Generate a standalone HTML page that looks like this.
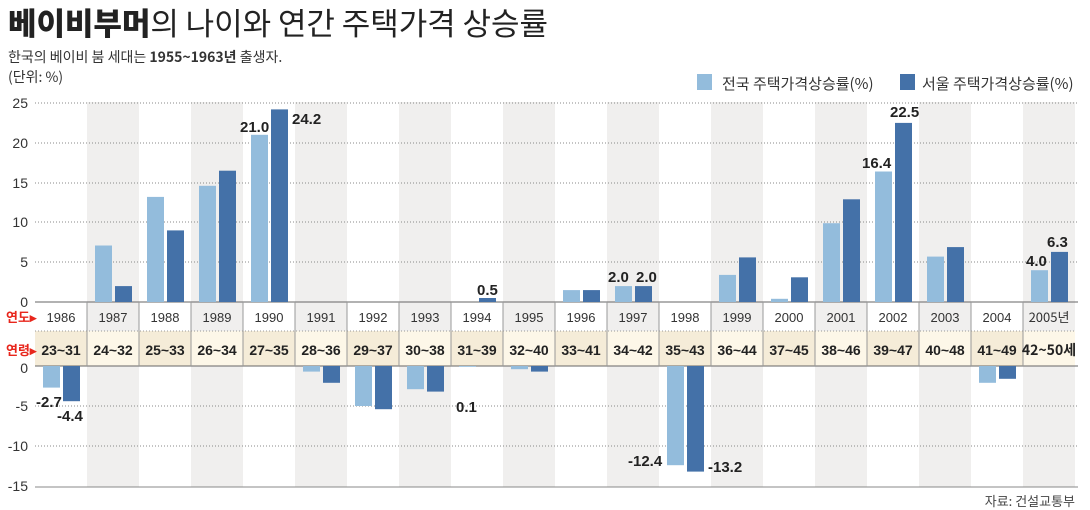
<!DOCTYPE html>
<html><head><meta charset="utf-8"><style>
body{margin:0;background:#fff;}
svg{display:block;font-family:"Liberation Sans","Noto Sans CJK KR",sans-serif;}
</style></head><body>
<svg width="1090" height="510" viewBox="0 0 1090 510" xmlns="http://www.w3.org/2000/svg">
<text x="8" y="35" font-size="31" fill="#222" font-family="'Noto Sans CJK KR',sans-serif" textLength="540"><tspan font-weight="900">베이비부머</tspan>의 나이와 연간 주택가격 상승률</text>
<text x="8" y="62" font-size="14" fill="#333" font-family="'Noto Sans CJK KR',sans-serif">한국의 베이비 붐 세대는 <tspan font-weight="bold">1955~1963년</tspan> 출생자.</text>
<text x="8" y="82" font-size="14" fill="#333" font-family="'Noto Sans CJK KR',sans-serif">(단위: %)</text>
<rect x="697" y="74" width="15" height="16" fill="#93bcdc"/>
<text x="722" y="89" font-size="15" fill="#333" font-family="'Noto Sans CJK KR',sans-serif">전국 주택가격상승률(%)</text>
<rect x="900" y="74" width="15" height="16" fill="#4471a8"/>
<text x="922" y="89" font-size="15" fill="#333" font-family="'Noto Sans CJK KR',sans-serif">서울 주택가격상승률(%)</text>
<g fill="#f0efee">
<rect x="87" y="102" width="52" height="385"/><rect x="191" y="102" width="52" height="385"/><rect x="295" y="102" width="52" height="385"/><rect x="399" y="102" width="52" height="385"/><rect x="503" y="102" width="52" height="385"/><rect x="607" y="102" width="52" height="385"/><rect x="711" y="102" width="52" height="385"/><rect x="815" y="102" width="52" height="385"/><rect x="919" y="102" width="52" height="385"/><rect x="1023" y="102" width="52" height="385"/>
</g>
<g stroke="#888" stroke-width="1" stroke-dasharray="1,2">
<line x1="35" y1="103" x2="1078" y2="103"/><line x1="35" y1="143" x2="1078" y2="143"/><line x1="35" y1="183" x2="1078" y2="183"/><line x1="35" y1="222" x2="1078" y2="222"/><line x1="35" y1="262" x2="1078" y2="262"/>
<line x1="35" y1="406" x2="1078" y2="406"/><line x1="35" y1="446" x2="1078" y2="446"/>
</g>
<g font-size="14" fill="#333" text-anchor="end">
<text x="28" y="108">25</text><text x="28" y="148">20</text><text x="28" y="188">15</text><text x="28" y="227">10</text><text x="28" y="267">5</text><text x="28" y="307">0</text>
<text x="28" y="373">0</text><text x="28" y="411">-5</text><text x="28" y="451">-10</text><text x="28" y="491">-15</text>
</g>
<rect x="35" y="302" width="1040" height="29" fill="#fff"/>
<g fill="#f0efee"><rect x="87" y="302" width="52" height="29"/><rect x="191" y="302" width="52" height="29"/><rect x="295" y="302" width="52" height="29"/><rect x="399" y="302" width="52" height="29"/><rect x="503" y="302" width="52" height="29"/><rect x="607" y="302" width="52" height="29"/><rect x="711" y="302" width="52" height="29"/><rect x="815" y="302" width="52" height="29"/><rect x="919" y="302" width="52" height="29"/><rect x="1023" y="302" width="52" height="29"/></g>
<rect x="35" y="331" width="1040" height="35" fill="#fdf7e8"/>
<g fill="#f5ecd8"><rect x="35" y="331" width="52" height="35"/><rect x="139" y="331" width="52" height="35"/><rect x="243" y="331" width="52" height="35"/><rect x="347" y="331" width="52" height="35"/><rect x="451" y="331" width="52" height="35"/><rect x="555" y="331" width="52" height="35"/><rect x="659" y="331" width="52" height="35"/><rect x="763" y="331" width="52" height="35"/><rect x="867" y="331" width="52" height="35"/><rect x="971" y="331" width="52" height="35"/></g>
<line x1="35" y1="331" x2="1075" y2="331" stroke="#999" stroke-dasharray="1,2"/>
<line x1="35" y1="302" x2="1078" y2="302" stroke="#666"/>
<line x1="35" y1="366" x2="1078" y2="366" stroke="#666"/>
<g stroke="#999"><line x1="87" y1="302" x2="87" y2="366"/><line x1="139" y1="302" x2="139" y2="366"/><line x1="191" y1="302" x2="191" y2="366"/><line x1="243" y1="302" x2="243" y2="366"/><line x1="295" y1="302" x2="295" y2="366"/><line x1="347" y1="302" x2="347" y2="366"/><line x1="399" y1="302" x2="399" y2="366"/><line x1="451" y1="302" x2="451" y2="366"/><line x1="503" y1="302" x2="503" y2="366"/><line x1="555" y1="302" x2="555" y2="366"/><line x1="607" y1="302" x2="607" y2="366"/><line x1="659" y1="302" x2="659" y2="366"/><line x1="711" y1="302" x2="711" y2="366"/><line x1="763" y1="302" x2="763" y2="366"/><line x1="815" y1="302" x2="815" y2="366"/><line x1="867" y1="302" x2="867" y2="366"/><line x1="919" y1="302" x2="919" y2="366"/><line x1="971" y1="302" x2="971" y2="366"/><line x1="1023" y1="302" x2="1023" y2="366"/></g>
<line x1="35" y1="487" x2="1078" y2="487" stroke="#888"/>
<g font-size="13" fill="#e8261c" font-weight="bold" font-family="'Noto Sans CJK KR',sans-serif"><text x="6" y="322">연도▸</text><text x="6" y="355">연령▸</text></g>
<g font-size="13" fill="#333" text-anchor="middle">
<text x="61" y="322">1986</text><text x="113" y="322">1987</text><text x="165" y="322">1988</text><text x="217" y="322">1989</text><text x="269" y="322">1990</text><text x="321" y="322">1991</text><text x="373" y="322">1992</text><text x="425" y="322">1993</text><text x="477" y="322">1994</text><text x="529" y="322">1995</text><text x="581" y="322">1996</text><text x="633" y="322">1997</text><text x="685" y="322">1998</text><text x="737" y="322">1999</text><text x="789" y="322">2000</text><text x="841" y="322">2001</text><text x="893" y="322">2002</text><text x="945" y="322">2003</text><text x="997" y="322">2004</text><text x="1049" y="322" font-family="'Noto Sans CJK KR',sans-serif">2005년</text>
</g>
<g font-size="14" fill="#222" text-anchor="middle" font-weight="bold">
<text x="61" y="355">23~31</text><text x="113" y="355">24~32</text><text x="165" y="355">25~33</text><text x="217" y="355">26~34</text><text x="269" y="355">27~35</text><text x="321" y="355">28~36</text><text x="373" y="355">29~37</text><text x="425" y="355">30~38</text><text x="477" y="355">31~39</text><text x="529" y="355">32~40</text><text x="581" y="355">33~41</text><text x="633" y="355">34~42</text><text x="685" y="355">35~43</text><text x="737" y="355">36~44</text><text x="789" y="355">37~45</text><text x="841" y="355">38~46</text><text x="893" y="355">39~47</text><text x="945" y="355">40~48</text><text x="997" y="355">41~49</text><text x="1049" y="355" font-family="'Noto Sans CJK KR',sans-serif">42~50세</text>
</g>
<g fill="#93bcdc">
<rect x="43" y="366" width="17" height="21.6"/>
<rect x="95" y="245.5" width="17" height="56.5"/>
<rect x="147" y="196.9" width="17" height="105.1"/>
<rect x="199" y="185.8" width="17" height="116.2"/>
<rect x="251" y="134.8" width="17" height="167.2"/>
<rect x="303" y="366" width="17" height="5.6"/>
<rect x="355" y="366" width="17" height="40"/>
<rect x="407" y="366" width="17" height="23.2"/>
<rect x="459" y="366" width="17" height="0.8"/>
<rect x="511" y="366" width="17" height="3.2"/>
<rect x="563" y="290.1" width="17" height="11.9"/>
<rect x="615" y="286.1" width="17" height="15.9"/>
<rect x="667" y="366" width="17" height="99.2"/>
<rect x="719" y="274.9" width="17" height="27.1"/>
<rect x="771" y="298.8" width="17" height="3.2"/>
<rect x="823" y="223.2" width="17" height="78.8"/>
<rect x="875" y="171.5" width="17" height="130.5"/>
<rect x="927" y="256.6" width="17" height="45.4"/>
<rect x="979" y="366" width="17" height="16.8"/>
<rect x="1031" y="270.2" width="17" height="31.8"/>
</g>
<g fill="#4471a8">
<rect x="63" y="366" width="17" height="35.2"/>
<rect x="115" y="286.1" width="17" height="15.9"/>
<rect x="167" y="230.4" width="17" height="71.6"/>
<rect x="219" y="170.7" width="17" height="131.3"/>
<rect x="271" y="109.4" width="17" height="192.6"/>
<rect x="323" y="366" width="17" height="16.8"/>
<rect x="375" y="366" width="17" height="43.2"/>
<rect x="427" y="366" width="17" height="25.6"/>
<rect x="479" y="298" width="17" height="4"/>
<rect x="531" y="366" width="17" height="5.6"/>
<rect x="583" y="290.1" width="17" height="11.9"/>
<rect x="635" y="286.1" width="17" height="15.9"/>
<rect x="687" y="366" width="17" height="105.6"/>
<rect x="739" y="257.4" width="17" height="44.6"/>
<rect x="791" y="277.3" width="17" height="24.7"/>
<rect x="843" y="199.3" width="17" height="102.7"/>
<rect x="895" y="122.9" width="17" height="179.1"/>
<rect x="947" y="247.1" width="17" height="54.9"/>
<rect x="999" y="366" width="17" height="12.8"/>
<rect x="1051" y="251.9" width="17" height="50.1"/>
</g>
<g font-size="15" fill="#222" font-weight="bold">
<text x="240" y="132">21.0</text><text x="292" y="124">24.2</text>
<text x="862" y="168">16.4</text><text x="890" y="117">22.5</text>
<text x="477" y="295">0.5</text>
<text x="608" y="282">2.0</text><text x="636" y="282">2.0</text>
<text x="1026" y="266">4.0</text><text x="1047" y="247">6.3</text>
<text x="36" y="407">-2.7</text><text x="57" y="421">-4.4</text>
<text x="456" y="412">0.1</text>
<text x="628" y="466">-12.4</text><text x="708" y="472">-13.2</text>
</g>
<text x="1075" y="506" font-size="13" fill="#444" text-anchor="end" font-family="'Noto Sans CJK KR',sans-serif">자료: 건설교통부</text>
</svg>
</body></html>
